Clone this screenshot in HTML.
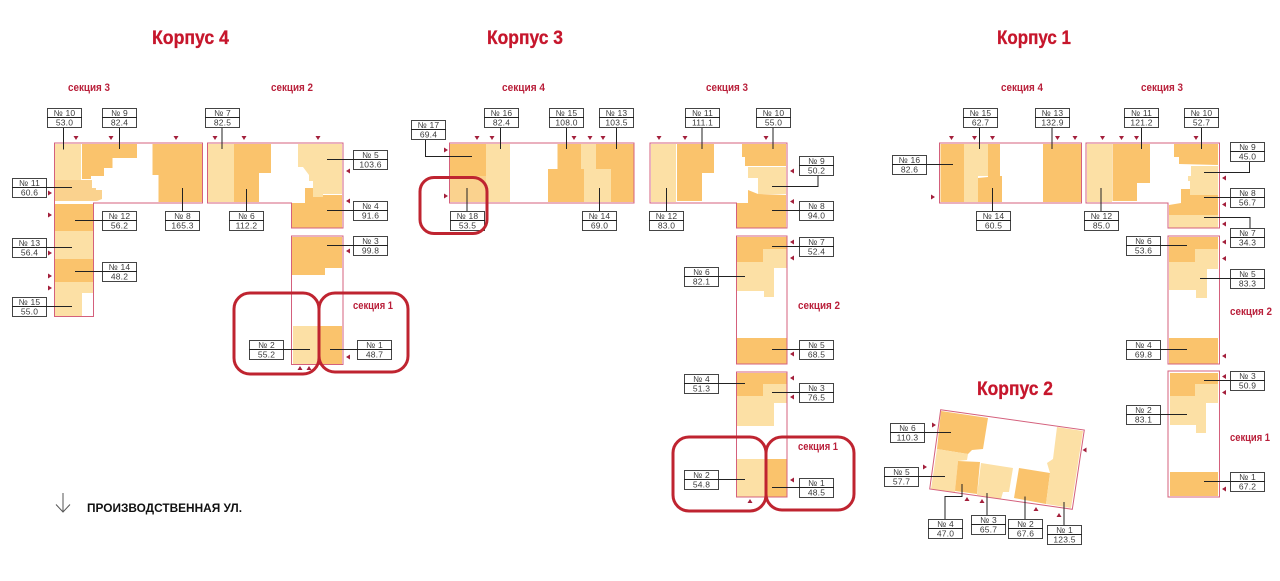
<!DOCTYPE html>
<html lang="ru"><head><meta charset="utf-8"><title>Корпуса</title>
<style>
html,body{margin:0;padding:0;background:#fff}
svg{display:block}
text{font-family:"Liberation Sans",sans-serif}
.a{fill:#fce0a5}.b{fill:#fac36c}.c{fill:#fad28e}
.o{fill:none;stroke:#d4607c;stroke-width:1}
.n{fill:none;stroke:#222;stroke-width:1}
.r{fill:none;stroke:#bf2430;stroke-width:3}
.t{font-weight:700;font-size:19px;fill:#c6162c;stroke:#c6162c;stroke-width:.3}
.s{font-weight:700;font-size:11px;fill:#b91f3a}
.L text{font-size:8.5px;fill:#3a3a3a;text-anchor:middle;letter-spacing:.2px}
.k{fill:#a31f3b}
</style></head><body>
<svg width="1280" height="581" viewBox="0 0 1280 581" xmlns="http://www.w3.org/2000/svg">
<defs>
<g id="box"><rect x="0.5" y="0.5" width="34" height="19" fill="#fff" stroke="#444"/><path d="M0 9.5H35" stroke="#222"/></g>
<polygon id="d" points="-2.5,-2 2.5,-2 0,2" class="k"/>
<polygon id="u" points="-2.5,2 2.5,2 0,-2" class="k"/>
<polygon id="e" points="-2,-2.5 -2,2.5 2,0" class="k"/>
<polygon id="w" points="2,-2.5 2,2.5 -2,0" class="k"/>
</defs>
<rect width="1280" height="581" fill="#fff"/>

<text class="t" x="152" y="44" textLength="77" lengthAdjust="spacingAndGlyphs">Корпус 4</text>
<text class="t" x="487" y="44" textLength="76" lengthAdjust="spacingAndGlyphs">Корпус 3</text>
<text class="t" x="997" y="44" textLength="74" lengthAdjust="spacingAndGlyphs">Корпус 1</text>
<text class="t" x="977" y="395" textLength="76" lengthAdjust="spacingAndGlyphs">Корпус 2</text>

<g class="sec">
<text class="s" x="68" y="91" textLength="42" lengthAdjust="spacingAndGlyphs">секция 3</text>
<text class="s" x="271" y="91" textLength="42" lengthAdjust="spacingAndGlyphs">секция 2</text>
<text class="s" x="353" y="309" textLength="40" lengthAdjust="spacingAndGlyphs">секция 1</text>
<text class="s" x="502" y="91" textLength="43" lengthAdjust="spacingAndGlyphs">секция 4</text>
<text class="s" x="706" y="91" textLength="42" lengthAdjust="spacingAndGlyphs">секция 3</text>
<text class="s" x="798" y="309" textLength="42" lengthAdjust="spacingAndGlyphs">секция 2</text>
<text class="s" x="798" y="450" textLength="40" lengthAdjust="spacingAndGlyphs">секция 1</text>
<text class="s" x="1001" y="91" textLength="42" lengthAdjust="spacingAndGlyphs">секция 4</text>
<text class="s" x="1141" y="91" textLength="42" lengthAdjust="spacingAndGlyphs">секция 3</text>
<text class="s" x="1230" y="315" textLength="42" lengthAdjust="spacingAndGlyphs">секция 2</text>
<text class="s" x="1230" y="441" textLength="40" lengthAdjust="spacingAndGlyphs">секция 1</text>
</g>

<!-- Fills Korpus 4 -->
<rect class="a" x="55" y="144" width="26" height="36"/>
<polygon class="b" points="82,144 137,144 137,158 112.5,158 112.5,168 104,168 104,176 91,176 91,179 82,179"/>
<polygon class="b" points="152.5,144 202,144 202,202 158.5,202 158.5,175 152.5,175"/>
<polygon class="c" points="55,180 92,180 92,188 96,188 96,190 102,190 102,199 97,201 55,201"/>
<rect class="b" x="55" y="204" width="38" height="27"/>
<rect class="a" x="55" y="231" width="38" height="28"/>
<rect class="b" x="55" y="259" width="38" height="23"/>
<polygon class="a" points="55,282 93,282 93,293 82,293 82,316 55,316"/>
<rect class="a" x="208" y="144" width="26" height="58"/>
<polygon class="b" points="234,144 271,144 271,173 259,173 259,202 234,202"/>
<polygon class="a" points="298,144 342,144 342,194 323,194 323,197 313,197 313,181 309,181 309,175 303,167 298,167"/>
<polygon class="b" points="292,203 305,203 305,188 313,188 313,197 323,197 323,195 342,195 342,228 292,228"/>
<polygon class="b" points="292,237 342,237 342,268 325,268 325,275 292,275"/>
<rect class="a" x="293" y="326" width="25" height="38"/>
<rect class="b" x="318" y="326" width="24" height="38"/>

<!-- Fills Korpus 3 -->
<rect class="b" x="450" y="144" width="36" height="32"/>
<rect class="c" x="450" y="176" width="36" height="26"/>
<rect class="a" x="486" y="144" width="24" height="58"/>
<polygon class="b" points="557.5,144 581,144 581,169 584,169 584,202 548,202 548,169 557.5,169"/>
<polygon class="a" points="581,144 596,144 596,169 611,169 611,202 584,202 584,169 581,169"/>
<polygon class="b" points="596,144 634,144 634,202 611,202 611,169 596,169"/>
<rect class="a" x="651" y="144" width="25" height="58"/>
<polygon class="b" points="677,144 714,144 714,173 702,173 702,201 677,201"/>
<polygon class="b" points="742,144 786,144 786,166 745,166 745,157 742,157"/>
<polygon class="a" points="748,167 786,167 786,194 758,194 758,178 748,178"/>
<polygon class="b" points="737,203 748,203 748,190 758,194 786,195 786,228 737,228"/>
<polygon class="b" points="737,237 787,237 787,249 763,249 763,262 737,262"/>
<polygon class="a" points="763,249 787,249 787,268 774,268 774,297 764,297 764,291 737,291 737,262 763,262"/>
<rect class="b" x="737" y="338" width="50" height="26"/>
<polygon class="b" points="737,373 787,373 787,384 763,384 763,396 737,396"/>
<polygon class="a" points="763,384 787,384 787,403 774,403 774,426 737,426 737,396 763,396"/>
<rect class="a" x="737" y="459" width="29" height="38"/>
<rect class="b" x="766" y="459" width="21" height="38"/>

<!-- Fills Korpus 1 -->
<rect class="b" x="940.5" y="144" width="23.5" height="58"/>
<polygon class="a" points="964,144 989,144 989,176 978,176 978,202 964,202"/>
<polygon class="b" points="988,144 1000,144 1000,176 1002,176 1002,202 978,202 978,178 988,177"/>
<rect class="b" x="1043" y="144" width="38" height="58"/>
<rect class="a" x="1087" y="144" width="25" height="58"/>
<polygon class="b" points="1112.5,144 1150,144 1150,183 1137,183 1137,201 1112.5,201"/>
<polygon class="b" points="1174,144 1218,144 1218,165 1179,164 1179,157 1174,157"/>
<polygon class="a" points="1191,166 1218,166 1218,195 1190,195 1190,181 1188,181 1188,176 1191,176"/>
<polygon class="b" points="1169,205 1181,203 1181,189 1190,189 1190,195 1218,195 1218,215 1169,215"/>
<rect class="a" x="1169" y="215" width="49" height="13"/>
<polygon class="b" points="1169,237 1218,237 1218,249 1195,249 1195,262 1169,262"/>
<polygon class="a" points="1195,249 1218,249 1218,269 1207,269 1207,298 1196,298 1196,290 1169,290 1169,262 1195,262"/>
<rect class="b" x="1169" y="338" width="49" height="26"/>
<polygon class="b" points="1170,373 1218,373 1218,384 1195,384 1195,396 1170,396"/>
<polygon class="a" points="1195,384 1218,384 1218,403 1206,403 1206,433 1196,433 1196,425 1170,425 1170,396 1195,396"/>
<rect class="b" x="1170" y="472" width="48" height="24"/>

<!-- Fills Korpus 2 -->
<polygon class="b" points="941,411 988,418 983,449 972,450 968,454 937,449"/>
<polygon class="a" points="937,449 968,454 967,460 958,461 955,492 931,489"/>
<polygon class="b" points="958,461 980,462 977,494 955,491"/>
<polygon class="a" points="981,463 1013,468 1009,492 1003,492 1001,499 977,495"/>
<polygon class="b" points="1019,468 1050,473 1046,504 1014,498"/>
<polygon class="a" points="1057,427 1083,431 1071,508 1046,504 1050,473 1047,463 1053,459"/>

<!-- Outlines -->
<path class="o" d="M54.5 143H202.5V203H93.5V316.5H54.5Z"/>
<path class="o" d="M207.5 143H343V228H291.5V203H207.5Z"/>
<path class="o" d="M291.5 236H343V364.5H291.5Z"/>
<path class="o" d="M449.5 143H634V203H449.5Z"/>
<path class="o" d="M650 143H787V228H736.5V203H650Z"/>
<path class="o" d="M736.5 236H787V364H736.5Z"/>
<path class="o" d="M736.5 372H787V497H736.5Z"/>
<path class="o" d="M939.5 143H1081.5V203H939.5Z"/>
<path class="o" d="M1086 143H1219.5V228H1168V203H1086Z"/>
<path class="o" d="M1168 236H1219.5V364H1168Z"/>
<path class="o" d="M1168 371H1219.5V497H1168Z"/>
<path class="o" d="M940.7 409.7L1084.3 430L1072.3 509.3L929.7 489Z"/>

<!-- Connectors -->
<path class="n" d="M63.5 127V149.5M119.5 127V149M46 187.5H72M102 220.5H75M182.5 188V211M46 247.5H72M102 271.5H75M46 306.5H72M222 127V149M353 159.5H327M246.5 189V211M353 210.5H327M353 245.5H327M283 349.5H310M357 349.5H330"/>
<path class="n" d="M425.5 139V156.5H472M500.5 127V149M566.5 127V149M616.5 127V149M467 188V211M599.5 188V211"/>
<path class="n" d="M702 127V149M773 127V149M818 175V186.5H772M666.5 188V211M799 210.5H772M799 246.5H772M718 276.5H745M799 349.5H772M718 383.5H745M799 392.5H772M718 479.5H745M799 487.5H772"/>
<path class="n" d="M926 164.5H953M979.5 127V149M1052 127V149M992.5 188V211"/>
<path class="n" d="M1141.5 127V149M1201.5 127V149M1101 188V211M1249.5 161V172.5H1204M1230 197.5H1204M1250 228V217.5H1204M1160 245.5H1187M1230 278.5H1200M1160 349.5H1187M1230 380.5H1204M1160 414.5H1187M1230 481.5H1204"/>
<path class="n" d="M924 432.5H951M918 476.5H945M945 519V496.5H962V484M987 515V493M1025 519V496.5M1064 525V502"/>

<!-- Arrowheads -->
<use href="#d" x="76" y="138"/><use href="#d" x="111" y="138"/><use href="#d" x="176" y="138"/><use href="#d" x="215" y="138"/><use href="#d" x="244" y="138"/><use href="#d" x="318" y="138"/>
<use href="#e" x="50" y="193"/><use href="#e" x="50" y="215"/><use href="#e" x="50" y="253"/><use href="#e" x="50" y="276"/><use href="#e" x="50" y="288"/>
<use href="#w" x="348" y="171"/><use href="#w" x="348" y="201"/><use href="#w" x="348" y="251"/><use href="#w" x="348" y="357"/>
<use href="#u" x="300" y="368"/><use href="#u" x="309" y="368"/>
<use href="#d" x="477" y="138"/><use href="#d" x="492" y="138"/><use href="#d" x="574" y="138"/><use href="#d" x="590" y="138"/><use href="#d" x="603" y="138"/>
<use href="#e" x="446" y="150"/><use href="#e" x="446" y="196"/>
<use href="#d" x="659" y="138"/><use href="#d" x="685" y="138"/><use href="#d" x="766" y="138"/>
<use href="#w" x="792" y="171"/><use href="#w" x="792" y="201.5"/><use href="#w" x="792" y="242"/><use href="#w" x="792" y="258"/><use href="#w" x="792" y="354"/><use href="#w" x="792" y="378"/><use href="#w" x="792" y="397"/><use href="#w" x="792" y="480"/>
<use href="#u" x="750" y="501"/>
<use href="#d" x="951.5" y="138"/><use href="#d" x="974.5" y="138"/><use href="#d" x="992.5" y="138"/><use href="#d" x="1057.5" y="138"/><use href="#d" x="1075" y="138"/>
<use href="#e" x="933" y="197"/>
<use href="#d" x="1102.5" y="138"/><use href="#d" x="1121.5" y="138"/><use href="#d" x="1136.5" y="138"/><use href="#d" x="1196" y="138"/>
<use href="#w" x="1224" y="178"/><use href="#w" x="1224" y="204.5"/><use href="#w" x="1224" y="224"/><use href="#w" x="1224" y="242"/><use href="#w" x="1224" y="258.5"/><use href="#w" x="1224" y="356"/><use href="#w" x="1224" y="376.5"/><use href="#w" x="1224" y="392.5"/><use href="#w" x="1224" y="489"/>
<use href="#e" x="934" y="425"/><use href="#e" x="925" y="467"/><use href="#w" x="1084.5" y="450"/>
<use href="#u" x="967" y="499"/><use href="#u" x="982" y="501"/><use href="#u" x="1036" y="509"/><use href="#u" x="1059" y="515"/>

<!-- Labels -->
<g class="L">
<g transform="translate(47,108)"><use href="#box"/><text x="17.5" y="8">№ 10</text><text x="17.5" y="17.5">53.0</text></g>
<g transform="translate(102,108)"><use href="#box"/><text x="17.5" y="8">№ 9</text><text x="17.5" y="17.5">82.4</text></g>
<g transform="translate(12,178)"><use href="#box"/><text x="17.5" y="8">№ 11</text><text x="17.5" y="17.5">60.6</text></g>
<g transform="translate(102,211)"><use href="#box"/><text x="17.5" y="8">№ 12</text><text x="17.5" y="17.5">56.2</text></g>
<g transform="translate(165,211)"><use href="#box"/><text x="17.5" y="8">№ 8</text><text x="17.5" y="17.5">165.3</text></g>
<g transform="translate(12,238)"><use href="#box"/><text x="17.5" y="8">№ 13</text><text x="17.5" y="17.5">56.4</text></g>
<g transform="translate(102,262)"><use href="#box"/><text x="17.5" y="8">№ 14</text><text x="17.5" y="17.5">48.2</text></g>
<g transform="translate(12,297)"><use href="#box"/><text x="17.5" y="8">№ 15</text><text x="17.5" y="17.5">55.0</text></g>
<g transform="translate(205,108)"><use href="#box"/><text x="17.5" y="8">№ 7</text><text x="17.5" y="17.5">82.5</text></g>
<g transform="translate(353,150)"><use href="#box"/><text x="17.5" y="8">№ 5</text><text x="17.5" y="17.5">103.6</text></g>
<g transform="translate(229,211)"><use href="#box"/><text x="17.5" y="8">№ 6</text><text x="17.5" y="17.5">112.2</text></g>
<g transform="translate(353,201)"><use href="#box"/><text x="17.5" y="8">№ 4</text><text x="17.5" y="17.5">91.6</text></g>
<g transform="translate(353,236)"><use href="#box"/><text x="17.5" y="8">№ 3</text><text x="17.5" y="17.5">99.8</text></g>
<g transform="translate(249,340)"><use href="#box"/><text x="17.5" y="8">№ 2</text><text x="17.5" y="17.5">55.2</text></g>
<g transform="translate(357,340)"><use href="#box"/><text x="17.5" y="8">№ 1</text><text x="17.5" y="17.5">48.7</text></g>

<g transform="translate(411,120)"><use href="#box"/><text x="17.5" y="8">№ 17</text><text x="17.5" y="17.5">69.4</text></g>
<g transform="translate(484,108)"><use href="#box"/><text x="17.5" y="8">№ 16</text><text x="17.5" y="17.5">82.4</text></g>
<g transform="translate(549,108)"><use href="#box"/><text x="17.5" y="8">№ 15</text><text x="17.5" y="17.5">108.0</text></g>
<g transform="translate(599,108)"><use href="#box"/><text x="17.5" y="8">№ 13</text><text x="17.5" y="17.5">103.5</text></g>
<g transform="translate(450,211)"><use href="#box"/><text x="17.5" y="8">№ 18</text><text x="17.5" y="17.5">53.5</text></g>
<g transform="translate(582,211)"><use href="#box"/><text x="17.5" y="8">№ 14</text><text x="17.5" y="17.5">69.0</text></g>
<g transform="translate(685,108)"><use href="#box"/><text x="17.5" y="8">№ 11</text><text x="17.5" y="17.5">111.1</text></g>
<g transform="translate(756,108)"><use href="#box"/><text x="17.5" y="8">№ 10</text><text x="17.5" y="17.5">55.0</text></g>
<g transform="translate(799,156)"><use href="#box"/><text x="17.5" y="8">№ 9</text><text x="17.5" y="17.5">50.2</text></g>
<g transform="translate(649,211)"><use href="#box"/><text x="17.5" y="8">№ 12</text><text x="17.5" y="17.5">83.0</text></g>
<g transform="translate(799,201)"><use href="#box"/><text x="17.5" y="8">№ 8</text><text x="17.5" y="17.5">94.0</text></g>
<g transform="translate(799,237)"><use href="#box"/><text x="17.5" y="8">№ 7</text><text x="17.5" y="17.5">52.4</text></g>
<g transform="translate(684,267)"><use href="#box"/><text x="17.5" y="8">№ 6</text><text x="17.5" y="17.5">82.1</text></g>
<g transform="translate(799,340)"><use href="#box"/><text x="17.5" y="8">№ 5</text><text x="17.5" y="17.5">68.5</text></g>
<g transform="translate(684,374)"><use href="#box"/><text x="17.5" y="8">№ 4</text><text x="17.5" y="17.5">51.3</text></g>
<g transform="translate(799,383)"><use href="#box"/><text x="17.5" y="8">№ 3</text><text x="17.5" y="17.5">76.5</text></g>
<g transform="translate(684,470)"><use href="#box"/><text x="17.5" y="8">№ 2</text><text x="17.5" y="17.5">54.8</text></g>
<g transform="translate(799,478)"><use href="#box"/><text x="17.5" y="8">№ 1</text><text x="17.5" y="17.5">48.5</text></g>

<g transform="translate(892,155)"><use href="#box"/><text x="17.5" y="8">№ 16</text><text x="17.5" y="17.5">82.6</text></g>
<g transform="translate(963,108)"><use href="#box"/><text x="17.5" y="8">№ 15</text><text x="17.5" y="17.5">62.7</text></g>
<g transform="translate(1035,108)"><use href="#box"/><text x="17.5" y="8">№ 13</text><text x="17.5" y="17.5">132.9</text></g>
<g transform="translate(976,211)"><use href="#box"/><text x="17.5" y="8">№ 14</text><text x="17.5" y="17.5">60.5</text></g>
<g transform="translate(1084,211)"><use href="#box"/><text x="17.5" y="8">№ 12</text><text x="17.5" y="17.5">85.0</text></g>
<g transform="translate(1124,108)"><use href="#box"/><text x="17.5" y="8">№ 11</text><text x="17.5" y="17.5">121.2</text></g>
<g transform="translate(1184,108)"><use href="#box"/><text x="17.5" y="8">№ 10</text><text x="17.5" y="17.5">52.7</text></g>
<g transform="translate(1230,142)"><use href="#box"/><text x="17.5" y="8">№ 9</text><text x="17.5" y="17.5">45.0</text></g>
<g transform="translate(1230,188)"><use href="#box"/><text x="17.5" y="8">№ 8</text><text x="17.5" y="17.5">56.7</text></g>
<g transform="translate(1230,228)"><use href="#box"/><text x="17.5" y="8">№ 7</text><text x="17.5" y="17.5">34.3</text></g>
<g transform="translate(1126,236)"><use href="#box"/><text x="17.5" y="8">№ 6</text><text x="17.5" y="17.5">53.6</text></g>
<g transform="translate(1230,269)"><use href="#box"/><text x="17.5" y="8">№ 5</text><text x="17.5" y="17.5">83.3</text></g>
<g transform="translate(1126,340)"><use href="#box"/><text x="17.5" y="8">№ 4</text><text x="17.5" y="17.5">69.8</text></g>
<g transform="translate(1230,371)"><use href="#box"/><text x="17.5" y="8">№ 3</text><text x="17.5" y="17.5">50.9</text></g>
<g transform="translate(1126,405)"><use href="#box"/><text x="17.5" y="8">№ 2</text><text x="17.5" y="17.5">83.1</text></g>
<g transform="translate(1230,472)"><use href="#box"/><text x="17.5" y="8">№ 1</text><text x="17.5" y="17.5">67.2</text></g>

<g transform="translate(890,423)"><use href="#box"/><text x="17.5" y="8">№ 6</text><text x="17.5" y="17.5">110.3</text></g>
<g transform="translate(884,467)"><use href="#box"/><text x="17.5" y="8">№ 5</text><text x="17.5" y="17.5">57.7</text></g>
<g transform="translate(928,519)"><use href="#box"/><text x="17.5" y="8">№ 4</text><text x="17.5" y="17.5">47.0</text></g>
<g transform="translate(971,515)"><use href="#box"/><text x="17.5" y="8">№ 3</text><text x="17.5" y="17.5">65.7</text></g>
<g transform="translate(1008,519)"><use href="#box"/><text x="17.5" y="8">№ 2</text><text x="17.5" y="17.5">67.6</text></g>
<g transform="translate(1047,525)"><use href="#box"/><text x="17.5" y="8">№ 1</text><text x="17.5" y="17.5">123.5</text></g>
</g>

<!-- Red highlight frames -->
<rect class="r" x="234" y="293" width="85" height="81" rx="16"/>
<rect class="r" x="319" y="293" width="89" height="79" rx="16"/>
<rect class="r" x="420" y="177.5" width="67" height="56" rx="14"/>
<rect class="r" x="673" y="437" width="93" height="74" rx="16"/>
<rect class="r" x="766" y="437" width="88" height="73" rx="16"/>

<!-- Street -->
<path d="M63 493V512M56 504.5L63 512L70 504.5" fill="none" stroke="#555" stroke-width="1"/>
<text x="87" y="512" font-size="11.5" font-weight="700" fill="#111" textLength="155" lengthAdjust="spacingAndGlyphs">ПРОИЗВОДСТВЕННАЯ УЛ.</text>
</svg>
</body></html>
